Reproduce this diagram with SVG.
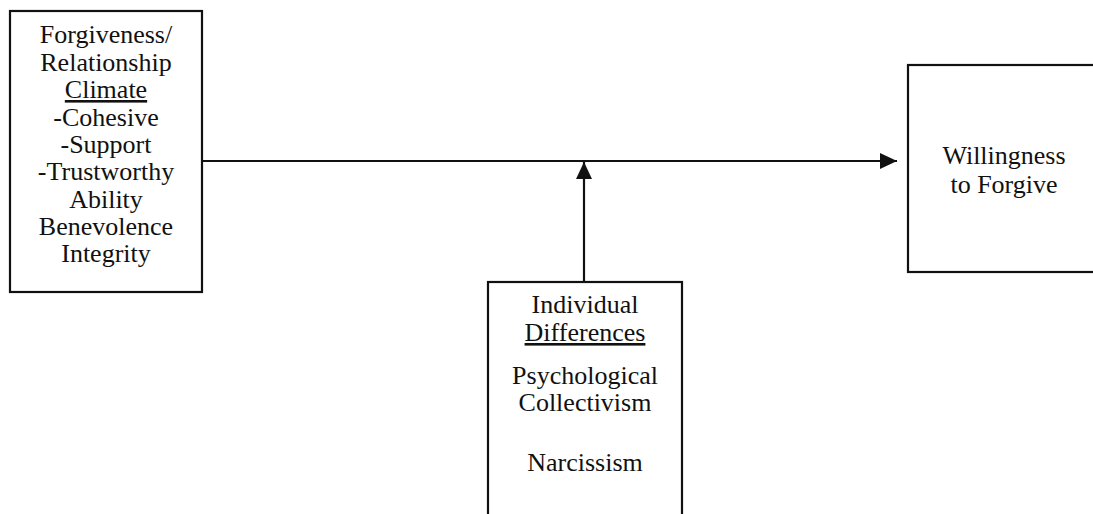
<svg xmlns="http://www.w3.org/2000/svg" width="1093" height="514" viewBox="0 0 1093 514">
  <style>
    .box { fill: #ffffff; stroke: #111111; stroke-width: 2.2; }
    .lbl { font-size: 26px; fill: #111111; text-anchor: middle; }
    .ul { text-decoration: underline; }
    .edge { stroke: #111111; stroke-width: 2.2; fill: none; }
  </style>
  <defs>
    <marker id="head" viewBox="0 0 17 16" refX="17" refY="8" markerWidth="17" markerHeight="16" markerUnits="userSpaceOnUse" orient="auto">
      <path d="M0,0 L17,8 L0,16 Z" fill="#111111"/>
    </marker>
  </defs>

  <!-- connectors -->
  <g id="connectors">
    <line class="edge" x1="202" y1="161" x2="897" y2="161" marker-end="url(#head)"/>
    <line class="edge" x1="584" y1="282" x2="584" y2="162" marker-end="url(#head)"/>
  </g>

  <!-- climate predictor -->
  <g id="climate" font-family="Liberation Serif, Times New Roman, Times, serif">
    <rect class="box" x="10" y="11" width="192" height="281"/>
    <text class="lbl" x="106" y="43">Forgiveness/</text>
    <text class="lbl" x="106" y="71">Relationship</text>
    <text class="lbl ul" x="106" y="98">Climate</text>
    <text class="lbl" x="106" y="126">-Cohesive</text>
    <text class="lbl" x="106" y="153">-Support</text>
    <text class="lbl" x="106" y="180">-Trustworthy</text>
    <text class="lbl" x="106" y="208">Ability</text>
    <text class="lbl" x="106" y="235">Benevolence</text>
    <text class="lbl" x="106" y="262">Integrity</text>
  </g>

  <!-- outcome -->
  <g id="outcome" font-family="Liberation Serif, Times New Roman, Times, serif">
    <rect class="box" x="908" y="65" width="200" height="207"/>
    <text class="lbl" x="1004" y="164">Willingness</text>
    <text class="lbl" x="1004" y="193">to Forgive</text>
  </g>

  <!-- moderator -->
  <g id="moderator" font-family="Liberation Serif, Times New Roman, Times, serif">
    <rect class="box" x="488" y="282" width="194" height="250"/>
    <text class="lbl" x="585" y="313">Individual</text>
    <text class="lbl ul" x="585" y="341">Differences</text>
    <text class="lbl" x="585" y="384">Psychological</text>
    <text class="lbl" x="585" y="411">Collectivism</text>
    <text class="lbl" x="585" y="471">Narcissism</text>
  </g>
</svg>
